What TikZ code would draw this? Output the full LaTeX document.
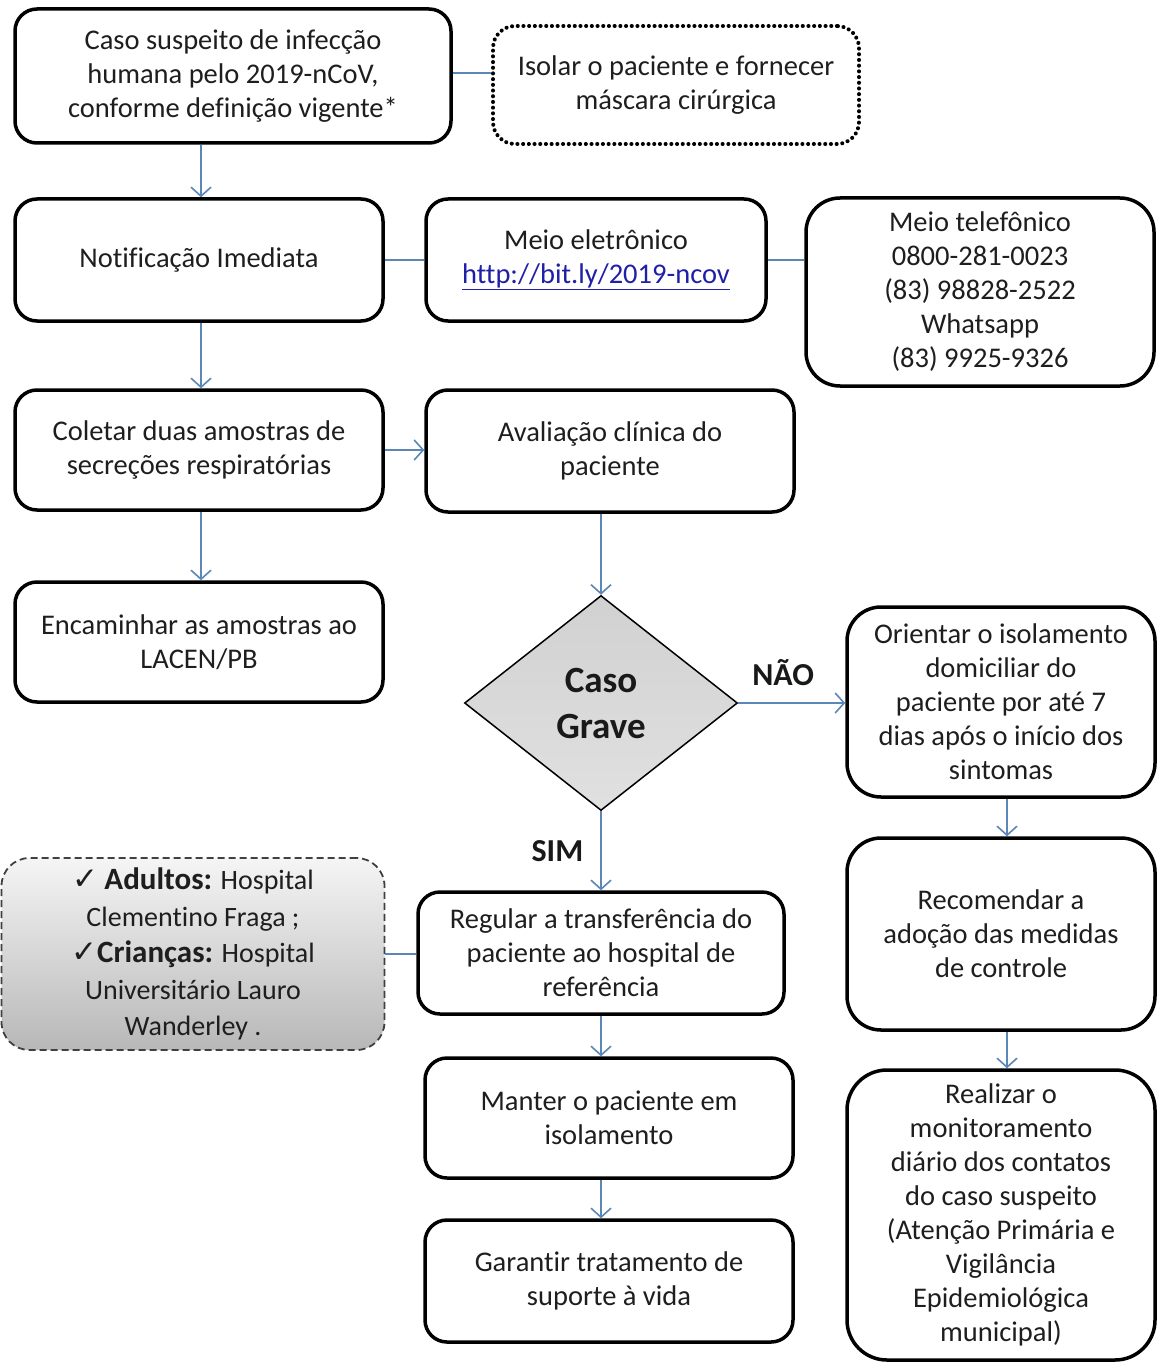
\documentclass[tikz,border=0pt]{standalone}
\usepackage{fontspec}
\setmainfont{Carlito}[Ligatures=NoCommon]
\newfontfamily\symfont{DejaVu Sans}
\usetikzlibrary{shapes.geometric,arrows.meta}
\definecolor{conn}{HTML}{5B87B8}
\definecolor{txt}{HTML}{1E1E1E}
\definecolor{linkblue}{HTML}{1F1FA8}
\begin{document}
\begin{tikzpicture}[x=1pt,y=-1pt,
  box/.style={draw=black, line width=3.5pt, rounded corners=22pt, align=center,
    font=\fontsize{28.5}{34}\selectfont, text=txt, inner sep=0pt, fill=white},
  bigbox/.style={box, rounded corners=34pt},
  dotbox/.style={box, line width=4pt, dash pattern=on 0.1pt off 5.6pt, line cap=round},
  graybox/.style={box, draw=black!75, line width=1.8pt, dash pattern=on 7pt off 4pt,
    top color=black!4, bottom color=black!28, rounded corners=28pt},
  decision/.style={diamond, draw=black, line width=1.5pt, top color=black!18, bottom color=black!12,
    inner sep=0pt, align=center, font=\fontsize{37}{46}\selectfont\bfseries, text=black!90},
  link/.style={draw=conn, line width=1.6pt},
  arr/.style={link, -{Straight Barb[length=9pt,width=20pt,line width=1.6pt]}},
  lbl/.style={font=\fontsize{32}{34}\selectfont\bfseries, text=black!90, inner sep=0pt}]
\useasboundingbox (0,0) rectangle (1157,1364);
\fill[white] (0,0) rectangle (1157,1364);

\node[box, minimum width=436pt, minimum height=134pt] (n1) at (233,76)
  {Caso suspeito de infecção\\ humana pelo 2019-nCoV,\\ conforme definição vigente*};
\node[dotbox, minimum width=366pt, minimum height=118pt] (iso) at (676,85)
  {Isolar o paciente e fornecer\\ máscara cirúrgica};
\node[box, minimum width=368pt, minimum height=122pt] (notif) at (199,260)
  {Notificação Imediata};
\node[box, minimum width=340pt, minimum height=122pt] (elet) at (596,260)
  {Meio eletrônico\\ {\color{linkblue}\underline{http://bit.ly/2019-ncov}}};
\node[bigbox, minimum width=348pt, minimum height=188pt] (tel) at (980,292)
  {Meio telefônico\\ 0800-281-0023\\ (83) 98828-2522\\ Whatsapp\\ (83) 9925-9326};
\node[box, minimum width=368pt, minimum height=120pt] (colet) at (199,450)
  {Coletar duas amostras de\\ secreções respiratórias};
\node[box, minimum width=368pt, minimum height=122pt] (aval) at (610,451)
  {Avaliação clínica do\\ paciente};
\node[box, minimum width=368pt, minimum height=120pt] (enc) at (199,642)
  {Encaminhar as amostras ao\\ LACEN/PB};
\node[decision, minimum width=273pt, minimum height=215pt] (dia) at (601,703)
  {Caso\\ Grave};
\node[bigbox, minimum width=308pt, minimum height=190pt] (ori) at (1001,702)
  {Orientar o isolamento\\ domiciliar do\\ paciente por até 7\\ dias após o início dos\\ sintomas};
\node[graybox, minimum width=383pt, minimum height=192pt, font=\fontsize{28}{36.5}\selectfont] (gray) at (193,954)
  {{\symfont\fontsize{31}{36}\selectfont ✓} {\fontsize{31}{36}\selectfont\bfseries Adultos:} Hospital\\
   Clementino Fraga ;\\
   {\symfont\fontsize{31}{36}\selectfont ✓}{\fontsize{31}{36}\selectfont\bfseries Crianças:} Hospital\\
   Universitário Lauro\\ Wanderley .};
\node[box, minimum width=366pt, minimum height=122pt] (reg) at (601,953)
  {Regular a transferência do\\ paciente ao hospital de\\ referência};
\node[bigbox, minimum width=308pt, minimum height=192pt] (rec) at (1001,934)
  {Recomendar a\\ adoção das medidas\\ de controle};
\node[box, minimum width=368pt, minimum height=120pt] (man) at (609,1118)
  {Manter o paciente em\\ isolamento};
\node[box, minimum width=368pt, minimum height=122pt] (gar) at (609,1281)
  {Garantir tratamento de\\ suporte à vida};
\node[bigbox, rounded corners=40pt, minimum width=308pt, minimum height=290pt] (real) at (1001,1215)
  {Realizar o\\ monitoramento\\ diário dos contatos\\ do caso suspeito\\ (Atenção Primária e\\ Vigilância\\ Epidemiológica\\ municipal)};

\coordinate (c1) at (201,0);
\draw[arr] (n1.south -| c1) -- (notif.north -| c1);
\draw[link] (n1.east |- 0,73) -- (iso.west |- 0,73);
\draw[link] (notif.east) -- (elet.west);
\draw[link] (elet.east) -- (elet.east -| tel.west);
\draw[arr] (notif.south -| c1) -- (colet.north -| c1);
\draw[arr] (colet.east) -- (colet.east -| aval.west);
\draw[arr] (colet.south -| c1) -- (enc.north -| c1);
\draw[arr] (aval.south -| dia.north) -- (dia.north);
\draw[arr] (dia.east) -- node[lbl, above=16pt, pos=0.42] {NÃO} (dia.east -| ori.west);
\draw[arr] (dia.south) -- node[lbl, left=17pt, pos=0.5] {SIM} (reg.north);
\draw[link] (gray.east) -- (gray.east -| reg.west);
\draw[arr] (reg.south) -- (reg.south |- man.north);
\draw[arr] (man.south -| reg.south) -- (gar.north -| reg.south);
\coordinate (c2) at (1007,0);
\draw[arr] (ori.south -| c2) -- (rec.north -| c2);
\draw[arr] (rec.south -| c2) -- (real.north -| c2);
\end{tikzpicture}
\end{document}
